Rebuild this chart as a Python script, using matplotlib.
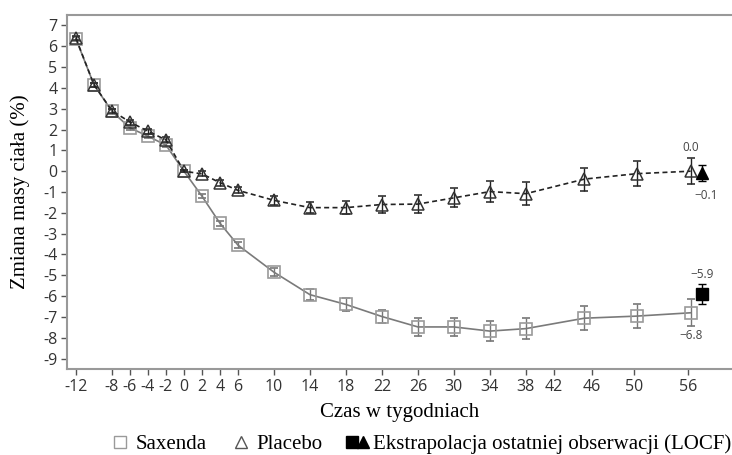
"""Zmiana masy ciała w czasie: Saxenda vs placebo."""

import matplotlib
matplotlib.use("Agg")
import matplotlib.pyplot as plt
from matplotlib.lines import Line2D
from matplotlib.legend_handler import HandlerTuple

# data
weeks = [-12, -10, -8, -6, -4, -2, 0, 2, 4, 6, 10, 14, 18, 22, 26, 30, 34, 38, 44.5, 50.3, 56.3]
saxenda = [6.35, 4.15, 2.87, 2.08, 1.68, 1.25, 0.0, -1.2, -2.5, -3.55, -4.85, -5.93, -6.4,
           -6.98, -7.48, -7.48, -7.68, -7.56, -7.06, -6.96, -6.8]
saxenda_err = [0.1, 0.1, 0.1, 0.1, 0.1, 0.1, 0.05, 0.1, 0.12, 0.15, 0.2, 0.28, 0.33,
               0.33, 0.43, 0.43, 0.48, 0.5, 0.57, 0.57, 0.65]
placebo = [6.38, 4.15, 2.9, 2.36, 1.92, 1.5, 0.0, -0.13, -0.55, -0.92, -1.4, -1.75, -1.75,
           -1.6, -1.58, -1.28, -0.98, -1.08, -0.38, -0.12, 0.0]
placebo_err = [0.1, 0.1, 0.1, 0.12, 0.12, 0.12, 0.05, 0.12, 0.15, 0.15, 0.2, 0.28, 0.33,
               0.4, 0.45, 0.45, 0.5, 0.55, 0.55, 0.6, 0.62]

locf_week = 57.6
locf_saxenda, locf_saxenda_err = -5.9, 0.5
locf_placebo, locf_placebo_err = -0.08, 0.4

tick_pos = [-12, -8, -6, -4, -2, 0, 2, 4, 6, 10, 14, 18, 22, 26, 30, 34, 38, 41.1, 45.3, 50, 56]
tick_labels = ['-12', '-8', '-6', '-4', '-2', '0', '2', '4', '6', '10', '14', '18', '22',
               '26', '30', '34', '38', '42', '46', '50', '56']
y_ticks = list(range(-9, 8))

serif = ['Liberation Serif', 'DejaVu Serif']
sans = ['Open Sans', 'DejaVu Sans']

fig = plt.figure(figsize=(7.32, 4.55), dpi=100)
ax = fig.add_axes([0.0915, 0.189, 0.9085, 0.778])

dark = '#222222'

# Saxenda
ax.errorbar(weeks, saxenda, yerr=saxenda_err, color='#7a7a7a', lw=1.2, ecolor='#777777',
            elinewidth=1, capsize=3, marker='s', ms=8, mfc='none', mec='#9a9a9a', mew=1.2,
            zorder=3)
# Placebo
ax.errorbar(weeks, placebo, yerr=placebo_err, color=dark, lw=1.2, ls=(0, (3, 2)), ecolor=dark,
            elinewidth=1, capsize=3, marker='^', ms=8, mfc='none', mec='#333333', mew=1.1,
            zorder=4)

# LOCF
ax.errorbar([locf_week], [locf_saxenda], yerr=[locf_saxenda_err], color='black', capsize=3,
            elinewidth=1, marker='s', ms=8, ls='none', zorder=5)
ax.errorbar([locf_week], [locf_placebo], yerr=[locf_placebo_err], color='black', capsize=3,
            elinewidth=1, marker='^', ms=8, ls='none', zorder=5)

# value labels
lab = dict(textcoords='offset points', ha='center', va='center', fontsize=8.5,
           color='#444444', family=sans)
ax.annotate('0.0', xy=(weeks[-1], placebo[-1]), xytext=(0, 17), **lab)
ax.annotate('\u22120.1', xy=(locf_week, locf_placebo), xytext=(3, -16), **lab)
ax.annotate('\u22125.9', xy=(locf_week, locf_saxenda), xytext=(0, 14), **lab)
ax.annotate('\u22126.8', xy=(weeks[-1], saxenda[-1]), xytext=(0, -16.5), **lab)

ax.set_xlim(-13, 60.9)
ax.set_ylim(-9.5, 7.5)
ax.set_xticks(tick_pos)
ax.set_xticklabels(tick_labels)
ax.set_yticks(y_ticks)
ax.set_yticklabels([str(v) for v in y_ticks])
for t in ax.get_xticklabels() + ax.get_yticklabels():
    t.set_family(sans)
    t.set_fontsize(11.5)
    t.set_color('#333333')
ax.tick_params(length=4, width=1, color='#555555', pad=3)

for side in ['left', 'bottom', 'top']:
    ax.spines[side].set_color('#999999')
    ax.spines[side].set_linewidth(1.5)
ax.spines['right'].set_visible(False)

ax.set_xlabel('Czas w tygodniach', family=serif, fontsize=15, labelpad=6)
ax.set_ylabel('Zmiana masy ciała (%)', family=serif, fontsize=15)
ax.yaxis.set_label_coords(-0.055, 0.5)

# legend
h_sax = Line2D([], [], ls='none', marker='s', ms=8, mfc='none', mec='#9a9a9a', mew=1)
h_pla = Line2D([], [], ls='none', marker='^', ms=8, mfc='none', mec='#555555', mew=1)
h_sq = Line2D([], [], ls='none', marker='s', ms=8, color='black')
h_tr = Line2D([], [], ls='none', marker='^', ms=8, color='black')
fig.legend([h_sax, h_pla, (h_sq, h_tr)],
           ['Saxenda', 'Placebo', 'Ekstrapolacja ostatniej obserwacji (LOCF)'],
           handler_map={tuple: HandlerTuple(ndivide=None, pad=0.2)},
           loc='lower center', bbox_to_anchor=(0.575, -0.04), ncol=3, frameon=False,
           prop={'family': serif, 'size': 15}, handlelength=0.9, handletextpad=0.3,
           columnspacing=1.2)

fig.savefig('out.png', dpi=100)
